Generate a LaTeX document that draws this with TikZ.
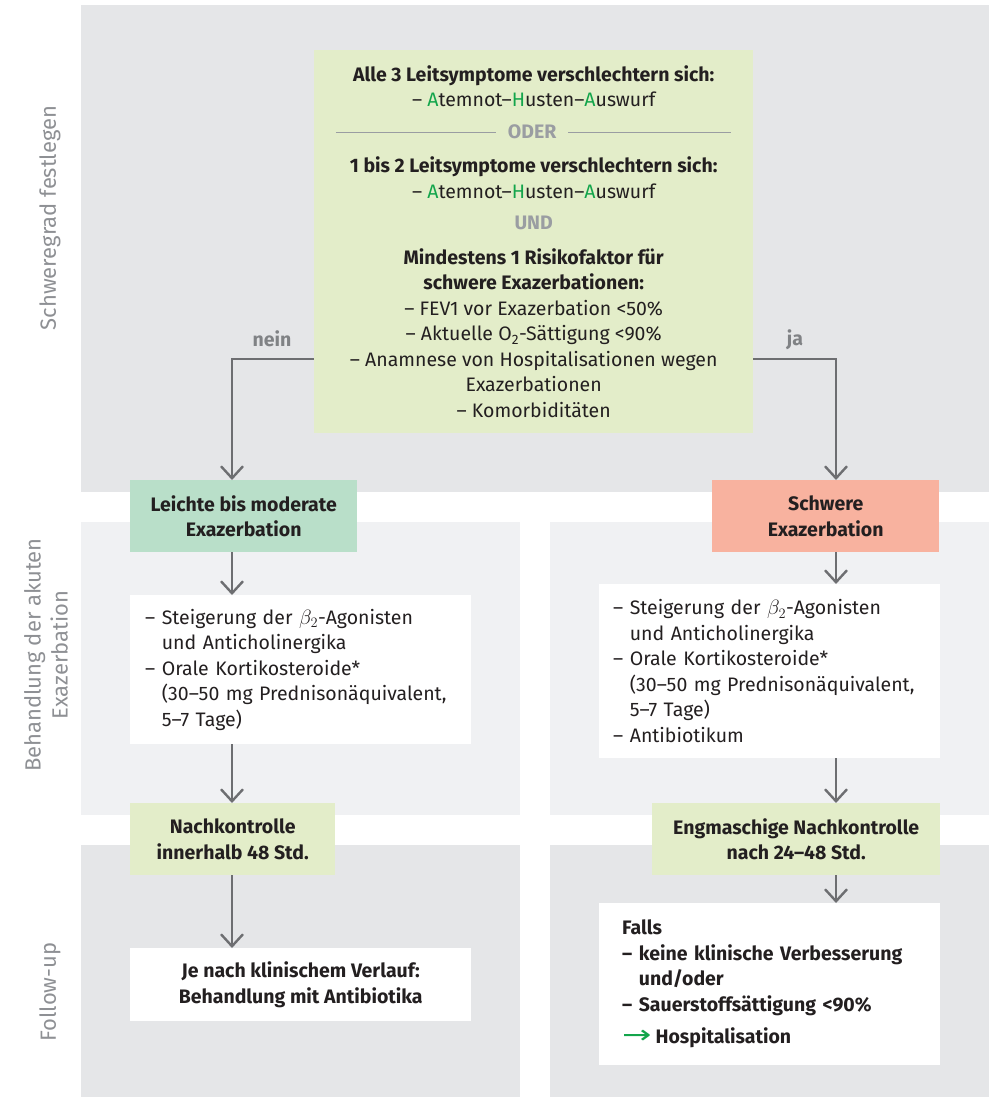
\documentclass[tikz,border=0pt]{standalone}
\usepackage{fontspec}
\setmainfont{Fira Sans}
\newfontfamily\pfeilfont{DejaVu Sans}
\usetikzlibrary{arrows.meta}

\definecolor{bandgrau}{HTML}{E5E6E8}
\definecolor{bandhell}{HTML}{F0F1F3}
\definecolor{boxgruen}{HTML}{E3EDC9}
\definecolor{boxmint}{HTML}{B9DFC9}
\definecolor{boxlachs}{HTML}{F8B29F}
\definecolor{pfeilgrau}{HTML}{6D6E71}
\definecolor{labelgrau}{HTML}{808285}
\definecolor{seitengrau}{HTML}{8E9094}
\definecolor{odergrau}{HTML}{9A9DA2}
\definecolor{textschwarz}{HTML}{231F20}
\definecolor{akzent}{HTML}{13A54B}
\newcommand{\grund}{\fontsize{19.5}{25.5}\selectfont}
\newcommand{\gA}{{\color{akzent}A}}
\newcommand{\gH}{{\color{akzent}H}}
\newcommand{\einr}{\hphantom{– }}

\begin{document}
\begin{tikzpicture}[x=1pt,y=-1pt,
  font=\grund,
  every node/.append style={text=textschwarz},
  kasten/.style={anchor=north west, inner sep=0pt, align=center, font=\grund\bfseries},
  liste/.style={anchor=north west, inner ysep=0pt, align=left, fill=white},
  seite/.style={rotate=90, text=seitengrau, align=center, font=\fontsize{22}{27}\selectfont},
  pfeil/.style={draw=pfeilgrau, line width=2.4pt, -{Straight Barb[length=12pt,width=22pt]}}]
\useasboundingbox (0,0) rectangle (997,1097);

\fill[bandgrau] (81,5) rectangle (989,492);
\foreach \xa/\xb in {81/520,550/989} {
  \fill[bandhell] (\xa,522) rectangle (\xb,815);
  \fill[bandgrau] (\xa,845) rectangle (\xb,1097);
}

\node[seite] (lblgrad) at (50,218) {Schweregrad festlegen};
\node[seite] (lblbeh) at (46,655) {Behandlung der akuten\\Exazerbation};
\node[seite] (lblfollow) at (50,992) {Follow-up};

\coordinate (spalteL) at (232,0);
\coordinate (spalteR) at (836,0);
\coordinate (abzweig) at (0,359);

\node[kasten, fill=boxgruen, font=\grund, minimum width=439, minimum height=383] (symptome) at (314,50) {%
\textbf{Alle 3 Leitsymptome verschlechtern sich:}\\
– \gA temnot–\gH usten–\gA uswurf\\[6pt]
{\color{odergrau}\rule[5pt]{160pt}{1.2pt}\hspace{12pt}\textbf{ODER}\hspace{12pt}\rule[5pt]{163pt}{1.2pt}}\\[9pt]
\textbf{1 bis 2 Leitsymptome verschlechtern sich:}\\
– \gA temnot–\gH usten–\gA uswurf\\[6pt]
{\color{odergrau}\textbf{UND}}\\[9pt]
\textbf{Mindestens 1 Risikofaktor für}\\
\textbf{schwere Exazerbationen:}\\
– FEV1 vor Exazerbation <50\%\\
– Aktuelle O\textsubscript{2}-Sättigung <90\%\\
– Anamnese von Hospitalisationen wegen\\
Exazerbationen\\
– Komorbiditäten};

\node[font=\grund\bfseries, text=labelgrau] (nein) at (272,339) {nein};
\node[font=\grund\bfseries, text=labelgrau] (ja) at (795,340) {ja};

\node[kasten, fill=boxmint, minimum width=227, minimum height=72] (leicht) at (130,480) {Leichte bis moderate\\Exazerbation};
\node[kasten, fill=boxlachs, minimum width=227, minimum height=72] (schwer) at (712,480) {Schwere\\Exazerbation};

\node[liste, inner xsep=15pt, text width=311pt, minimum height=149] (therapieL) at (130,595) {%
– Steigerung der $\beta_2$-Agonisten\\
\einr und Anticholinergika\\
– Orale Kortikosteroide*\\
\einr (30–50 mg Prednisonäquivalent,\\
\einr 5–7 Tage)};
\node[liste, inner xsep=14pt, text width=313pt, minimum height=174] (therapieR) at (599,584) {%
– Steigerung der $\beta_2$-Agonisten\\
\einr und Anticholinergika\\
– Orale Kortikosteroide*\\
\einr (30–50 mg Prednisonäquivalent,\\
\einr 5–7 Tage)\\
– Antibiotikum};

\node[kasten, fill=boxgruen, minimum width=205, minimum height=72] (kontrolleL) at (130,803) {Nachkontrolle\\innerhalb 48 Std.};
\node[kasten, fill=boxgruen, minimum width=288, minimum height=72] (kontrolleR) at (652,803) {Engmaschige Nachkontrolle\\nach 24–48 Std.};

\node[kasten, fill=white, minimum width=341, minimum height=73] (folgeL) at (130,948) {Je nach klinischem Verlauf:\\Behandlung mit Antibiotika};
\node[liste, font=\grund\bfseries, inner xsep=23pt, text width=295pt, minimum height=162] (folgeR) at (599,903) {%
Falls\\
– keine klinische Verbesserung\\
\einr und/oder\\
– Sauerstoffsättigung <90\%\\[7pt]
{\color{akzent}\pfeilfont\mdseries\scalebox{1.8}[1.3]{→}}\hspace{4pt}Hospitalisation};

\draw[pfeil] (symptome.west |- abzweig) -| (leicht.north -| spalteL);
\draw[pfeil] (symptome.east |- abzweig) -| (schwer.north -| spalteR);
\draw[pfeil] (leicht.south -| spalteL) -- (therapieL.north -| spalteL);
\draw[pfeil] (schwer.south -| spalteR) -- (therapieR.north -| spalteR);
\draw[pfeil] (therapieL.south -| spalteL) -- (kontrolleL.north -| spalteL);
\draw[pfeil] (therapieR.south -| spalteR) -- (kontrolleR.north -| spalteR);
\draw[pfeil] (kontrolleL.south -| spalteL) -- (folgeL.north -| spalteL);
\draw[pfeil] (kontrolleR.south -| spalteR) -- (folgeR.north -| spalteR);
\end{tikzpicture}
\end{document}
